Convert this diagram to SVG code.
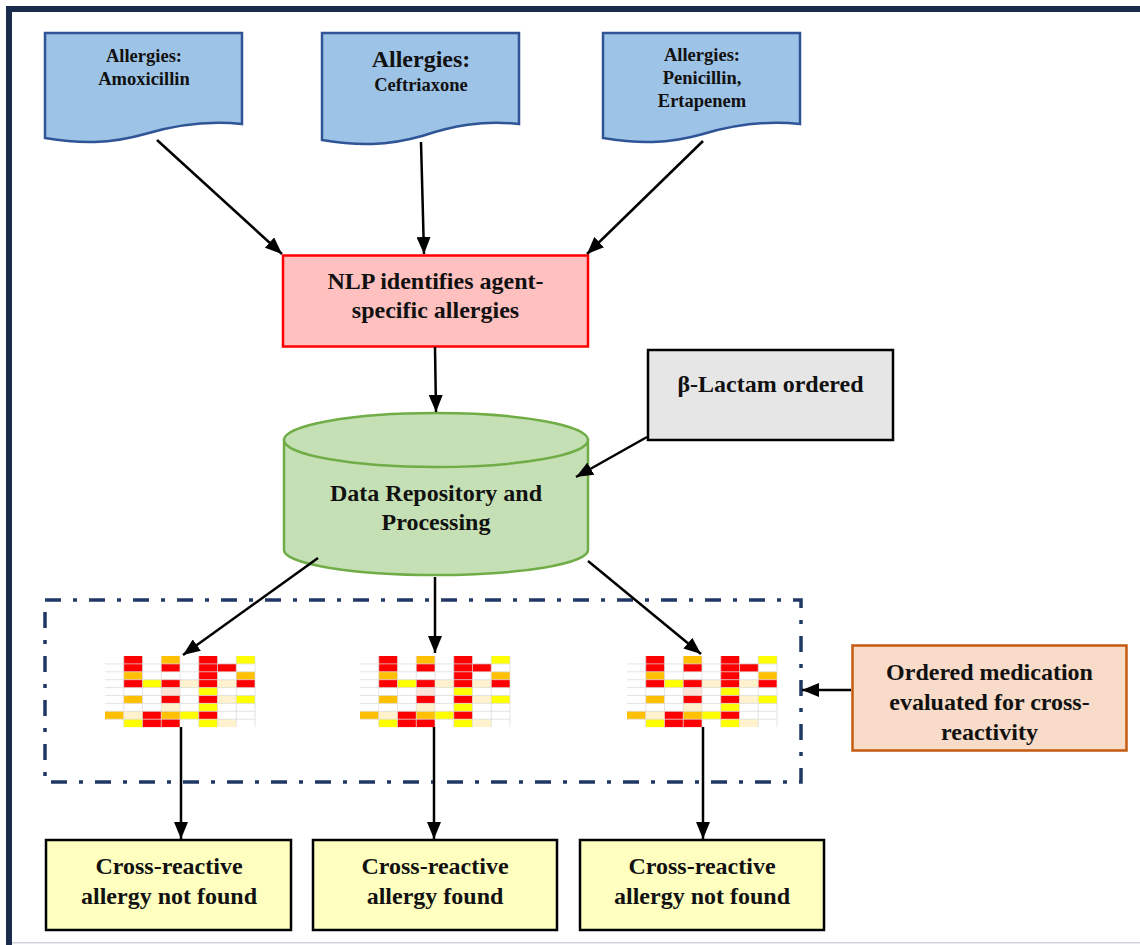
<svg xmlns="http://www.w3.org/2000/svg" xmlns:xlink="http://www.w3.org/1999/xlink" width="1140" height="945" viewBox="0 0 1140 945">
  <style>
    .t { font-family: "Liberation Serif", "Times New Roman", serif; font-weight: bold; fill: #111; text-anchor: middle; }
    .big { font-size: 24px; }
    .small { font-size: 18.5px; }
    .doc { fill: #9dc3e6; stroke: #2f5597; stroke-width: 2.5; }
    .conn { stroke: #000; stroke-width: 2.5; fill: none; marker-end: url(#arrow); }
    .R { fill: #ff0000; } .O { fill: #ffc000; } .Y { fill: #ffff00; } .B { fill: #fff2cc; } .P { fill: #fce4d6; }
  </style>
  <defs>
    <marker id="arrow" markerUnits="userSpaceOnUse" markerWidth="18" markerHeight="14" refX="17" refY="7" orient="auto">
      <path d="M0,0 L17,7 L0,14 Z" fill="#000"/>
    </marker>
    <!-- heatmap tile: 8 columns x 9 rows -->
    <g id="heat">
      <rect x="0" y="0" width="150" height="71" fill="#fff"/>
      <g>
        <rect class="R" x="18.75" y="0" width="18.75" height="7.9"/>
        <rect class="O" x="56.25" y="0" width="18.75" height="7.9"/>
        <rect class="R" x="93.75" y="0" width="18.75" height="7.9"/>
        <rect class="Y" x="131.25" y="0" width="18.75" height="7.9"/>

        <rect class="R" x="18.75" y="7.9" width="18.75" height="7.9"/>
        <rect class="R" x="56.25" y="7.9" width="18.75" height="7.9"/>
        <rect class="R" x="93.75" y="7.9" width="18.75" height="7.9"/>
        <rect class="R" x="112.5" y="7.9" width="18.75" height="7.9"/>

        <rect class="O" x="18.75" y="15.8" width="18.75" height="7.9"/>
        <rect class="R" x="93.75" y="15.8" width="18.75" height="7.9"/>
        <rect class="O" x="131.25" y="15.8" width="18.75" height="7.9"/>

        <rect class="R" x="18.75" y="23.7" width="18.75" height="7.9"/>
        <rect class="Y" x="37.5" y="23.7" width="18.75" height="7.9"/>
        <rect class="R" x="56.25" y="23.7" width="18.75" height="7.9"/>
        <rect class="B" x="75" y="23.7" width="18.75" height="7.9"/>
        <rect class="R" x="93.75" y="23.7" width="18.75" height="7.9"/>
        <rect class="B" x="112.5" y="23.7" width="18.75" height="7.9"/>
        <rect class="R" x="131.25" y="23.7" width="18.75" height="7.9"/>

        <rect class="P" x="56.25" y="31.6" width="18.75" height="7.9"/>
        <rect class="Y" x="93.75" y="31.6" width="18.75" height="7.9"/>

        <rect class="O" x="18.75" y="39.5" width="18.75" height="7.9"/>
        <rect class="R" x="56.25" y="39.5" width="18.75" height="7.9"/>
        <rect class="R" x="93.75" y="39.5" width="18.75" height="7.9"/>
        <rect class="B" x="112.5" y="39.5" width="18.75" height="7.9"/>
        <rect class="Y" x="131.25" y="39.5" width="18.75" height="7.9"/>

        <rect class="B" x="56.25" y="47.4" width="18.75" height="7.9"/>
        <rect class="Y" x="93.75" y="47.4" width="18.75" height="7.9"/>

        <rect class="O" x="0" y="55.3" width="18.75" height="7.9"/>
        <rect class="B" x="18.75" y="55.3" width="18.75" height="7.9"/>
        <rect class="R" x="37.5" y="55.3" width="18.75" height="7.9"/>
        <rect class="O" x="56.25" y="55.3" width="18.75" height="7.9"/>
        <rect class="Y" x="75" y="55.3" width="18.75" height="7.9"/>
        <rect class="R" x="93.75" y="55.3" width="18.75" height="7.9"/>

        <rect class="Y" x="18.75" y="63.2" width="18.75" height="7.9"/>
        <rect class="R" x="37.5" y="63.2" width="18.75" height="7.9"/>
        <rect class="R" x="56.25" y="63.2" width="18.75" height="7.9"/>
        <rect class="Y" x="93.75" y="63.2" width="18.75" height="7.9"/>
        <rect class="B" x="112.5" y="63.2" width="18.75" height="7.9"/>
      </g>
      <path d="M0,7.9H150M0,15.8H150M0,23.7H150M0,31.6H150M0,39.5H150M0,47.4H150M0,55.3H150M0,63.2H150M18.75,0V71M37.5,0V71M56.25,0V71M75,0V71M93.75,0V71M112.5,0V71M131.25,0V71M150,0V71" stroke="#d9d9d9" stroke-width="0.7" fill="none"/>
    </g>
  </defs>

  <rect width="1140" height="945" fill="#fff"/>

  <!-- page frame -->
  <g id="frame">
    <rect x="6" y="6" width="1134" height="6" fill="#1b2b4b"/>
    <rect x="6" y="6" width="6" height="939" fill="#1b2b4b"/>
    <rect x="12" y="942" width="1128" height="1.5" fill="#cfd3db"/>
  </g>

  <!-- allergy documents -->
  <g id="doc-amoxicillin">
    <path class="doc" d="M45,33 H242 V124 C205,120 175,125 145,134 C110,144 80,144 45,138 Z"/>
    <text class="t small" x="144" y="62">Allergies:</text>
    <text class="t small" x="144" y="85">Amoxicillin</text>
  </g>
  <g id="doc-ceftriaxone">
    <path class="doc" d="M322,33 H519 V124 C482,120 452,126 422,136 C387,146 357,146 322,140 Z"/>
    <text class="t" style="font-size:24px" x="421" y="67">Allergies:</text>
    <text class="t small" x="421" y="91">Ceftriaxone</text>
  </g>
  <g id="doc-penicillin">
    <path class="doc" d="M603,33 H800 V124 C763,120 733,125 703,134 C668,144 638,144 603,138 Z"/>
    <text class="t small" x="702" y="61">Allergies:</text>
    <text class="t small" x="702" y="84">Penicillin,</text>
    <text class="t small" x="702" y="107">Ertapenem</text>
  </g>

  <!-- NLP step -->
  <g id="nlp">
    <rect x="283" y="255.5" width="305" height="91" fill="#ffc0c0" stroke="#ff0000" stroke-width="2.5"/>
    <text class="t big" x="435.5" y="289">NLP identifies agent-</text>
    <text class="t big" x="435.5" y="318">specific allergies</text>
  </g>

  <!-- repository cylinder -->
  <g id="repository">
    <path d="M284,440 V550 A152,25 0 0 0 588,550 V440 Z" fill="#c5e0b4" stroke="#70ad47" stroke-width="2.5"/>
    <ellipse cx="436" cy="440" rx="152" ry="27" fill="#c5e0b4" stroke="#70ad47" stroke-width="2.5"/>
    <text class="t big" x="436" y="501">Data Repository and</text>
    <text class="t big" x="436" y="530">Processing</text>
  </g>

  <!-- beta-lactam order -->
  <g id="beta-lactam">
    <rect x="648" y="350" width="245" height="90" fill="#e7e6e6" stroke="#000" stroke-width="2.5"/>
    <text class="t big" x="770.5" y="391.5">β-Lactam ordered</text>
  </g>

  <!-- cross-reactivity evaluation -->
  <g id="evaluation">
    <rect x="45" y="600" width="756" height="182" fill="none" stroke="#1f3864" stroke-width="3.5" stroke-dasharray="16 12 4 12"/>
    <use xlink:href="#heat" href="#heat" x="105" y="656"/>
    <use xlink:href="#heat" href="#heat" x="360" y="656"/>
    <use xlink:href="#heat" href="#heat" x="627" y="656"/>
  </g>

  <g id="ordered-medication">
    <rect x="852.5" y="645.5" width="274" height="105" fill="#f8dbc8" stroke="#c55a11" stroke-width="2.5"/>
    <text class="t big" x="989.5" y="680">Ordered medication</text>
    <text class="t big" x="989.5" y="710">evaluated for cross-</text>
    <text class="t big" x="989.5" y="740">reactivity</text>
  </g>

  <!-- outcomes -->
  <g id="outcome-1">
    <rect x="46" y="840" width="245" height="90" fill="#ffffc0" stroke="#000" stroke-width="2.5"/>
    <text class="t big" x="169" y="874">Cross-reactive</text>
    <text class="t big" x="169" y="904">allergy not found</text>
  </g>
  <g id="outcome-2">
    <rect x="313" y="840" width="244" height="90" fill="#ffffc0" stroke="#000" stroke-width="2.5"/>
    <text class="t big" x="435" y="874">Cross-reactive</text>
    <text class="t big" x="435" y="904">allergy found</text>
  </g>
  <g id="outcome-3">
    <rect x="580" y="840" width="244" height="90" fill="#ffffc0" stroke="#000" stroke-width="2.5"/>
    <text class="t big" x="702" y="874">Cross-reactive</text>
    <text class="t big" x="702" y="904">allergy not found</text>
  </g>

  <!-- connectors -->
  <g id="connectors">
    <line class="conn" x1="157" y1="140" x2="282" y2="254"/>
    <line class="conn" x1="421" y1="142" x2="424" y2="254"/>
    <line class="conn" x1="703" y1="141" x2="587" y2="254"/>
    <line class="conn" x1="435" y1="347" x2="436" y2="412"/>
    <line class="conn" x1="647" y1="437" x2="576" y2="477"/>
    <line class="conn" x1="318" y1="558" x2="183" y2="655"/>
    <line class="conn" x1="435" y1="577" x2="435" y2="653"/>
    <line class="conn" x1="588" y1="561" x2="701" y2="654"/>
    <line class="conn" x1="181" y1="727" x2="181" y2="839"/>
    <line class="conn" x1="434" y1="727" x2="434" y2="839"/>
    <line class="conn" x1="703" y1="727" x2="703" y2="839"/>
    <line class="conn" x1="851" y1="690" x2="802" y2="690"/>
  </g>
</svg>
